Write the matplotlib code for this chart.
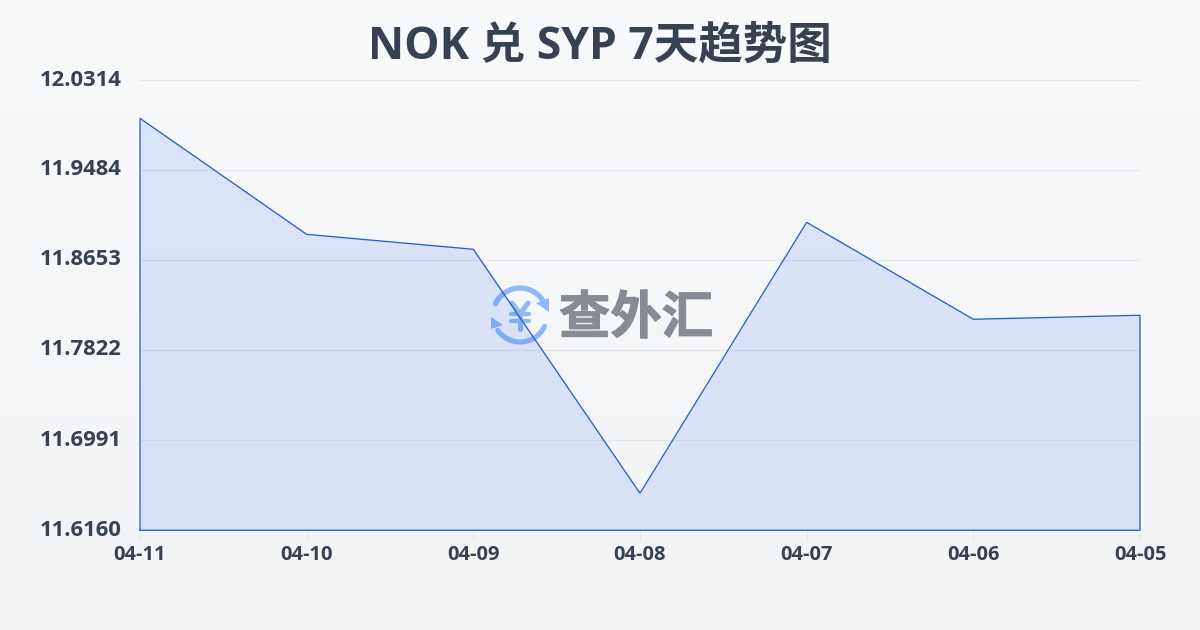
import numpy as np
import matplotlib
matplotlib.use("Agg")
import matplotlib.pyplot as plt
import matplotlib.patheffects as pe
from matplotlib.patches import Arc, Polygon
from matplotlib.lines import Line2D

dates = ["04-11", "04-10", "04-09", "04-08", "04-07", "04-06", "04-05"]
rates = [11.9963, 11.8892, 11.8754, 11.6502, 11.9003, 11.8108, 11.8145]
ytick_labels = ["12.0314", "11.9484", "11.8653", "11.7822", "11.6991", "11.6160"]
yticks = [float(v) for v in ytick_labels]
title = "NOK 兑 SYP 7天趋势图"
watermark = "查外汇"

W, H = 1200, 630
TEXT = "#374151"
LINE = "#2a5fc9"
LOGO_BLUE = "#8fb8f8"
LATIN = "Open Sans"

fig = plt.figure(figsize=(W / 100, H / 100), dpi=100)

bg = fig.add_axes([0, 0, 1, 1], zorder=0)
c0 = np.array([0xf8, 0xfa, 0xfc]) / 255
c1 = np.array([0xf3, 0xf4, 0xf6]) / 255
t = np.linspace(0, 1, 256)[:, None, None]
bg.imshow(c0 * (1 - t) + c1 * t, aspect="auto", extent=[0, 1, 0, 1])
bg.axis("off")

ax = fig.add_axes([140 / W, 1 - 530.3 / H, 1000 / W, 450 / H], zorder=1)
ax.patch.set_alpha(0)
x = np.arange(len(dates))
ax.set_xlim(0, len(dates) - 1)
ax.set_ylim(yticks[-1], yticks[0])
ax.fill_between(x, rates, yticks[-1], color="#2563eb", alpha=0.135, lw=0, zorder=2)
ax.plot(np.r_[x[0], x, x[-1], x[0]], np.r_[yticks[-1], rates, yticks[-1], yticks[-1]],
        color=LINE, lw=0.95, zorder=4, solid_joinstyle="miter", clip_on=False)
ax.grid(axis="y", color="#e5e7eb", lw=0.9)
ax.set_axisbelow(True)
for s in ax.spines.values():
    s.set_visible(False)
ax.set_xticks(x)
ax.set_xticklabels(dates)
ax.tick_params(axis="x", length=7, width=0.8, color="#e5e7eb", pad=3.5)
for lab in ax.get_xticklabels():
    lab.set(family=LATIN, weight="bold", fontsize=14.4, color=TEXT)
ax.set_yticks(yticks)
ax.set_yticklabels([])
for v, s in zip(yticks, ytick_labels):
    ax.annotate(s, (0, v), xytext=(-13, 0.2), textcoords="offset points", ha="right", va="center",
                family=LATIN, weight="bold", fontsize=15.8, color=TEXT, annotation_clip=False)
ax.tick_params(axis="y", length=0)

fig.text(0.5, 1 - 47 / H, title, ha="center", va="center", fontsize=32, weight="bold",
         color="#374151", family=[LATIN, "Noto Sans CJK SC"])

ov = fig.add_axes([0, 0, 1, 1], zorder=0.5)
ov.set_xlim(0, W)
ov.set_ylim(H, 0)
ov.axis("off")
ov.patch.set_alpha(0)
cx, cy, r = 520, 315, 27
ov.add_patch(Arc((cx, cy), 2 * r, 2 * r, theta1=25, theta2=145, color=LOGO_BLUE, lw=3.8, capstyle="round"))
ov.add_patch(Arc((cx, cy), 2 * r, 2 * r, theta1=205, theta2=335, color=LOGO_BLUE, lw=3.8, capstyle="round"))
ov.add_patch(Polygon([(549, 298), (549, 312), (536, 303)], color=LOGO_BLUE, lw=0))
ov.add_patch(Polygon([(491, 317), (491, 329), (503, 325)], color=LOGO_BLUE, lw=0))
ov.add_line(Line2D([512, 520, 528], [303, 314, 303], color=LOGO_BLUE, lw=3.6, solid_capstyle="round"))
ov.add_line(Line2D([520, 520], [314, 329], color=LOGO_BLUE, lw=3.6, solid_capstyle="round"))
ov.add_line(Line2D([511, 529], [314, 314], color=LOGO_BLUE, lw=3, solid_capstyle="round"))
ov.add_line(Line2D([511, 529], [321, 321], color=LOGO_BLUE, lw=3, solid_capstyle="round"))
ov.text(636, 318, watermark, ha="center", va="center", fontsize=37, weight="bold",
        color="#878b93", family=["Noto Sans CJK SC", "DejaVu Sans"],
        path_effects=[pe.withStroke(linewidth=0.8, foreground="#878b93")])

fig.savefig("out.png", dpi=100)
